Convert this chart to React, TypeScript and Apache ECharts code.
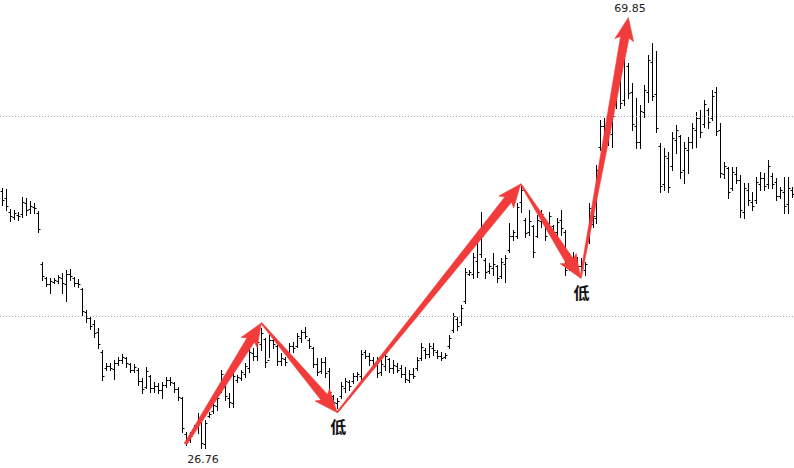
import React, { useEffect, useRef } from "react";
import * as echarts from "echarts";

const categories: string[] = Array.from({ length: 199 }, (_, i) => String(i + 1));

const openP: number[] = [
  52.5, 51.8, 50.4, 49.9, 50.1, 50.2, 51.3, 50.7, 50.9, 50.3,
  45.2, 43.8, 43.2, 43.4, 43.5, 43.8, 43.2, 44.2, 43.8, 43.3,
  42.7, 40.4, 39.8, 39.2, 38.4, 36.4, 34.8, 35.0, 34.7, 35.3,
  35.6, 35.8, 35.2, 34.6, 34.6, 33.5, 32.9, 34.0, 32.8, 33.0,
  32.6, 33.1, 33.6, 33.3, 32.7, 31.8, 28.2, 27.6, 28.7, 29.0,
  29.4, 27.2, 30.0, 30.5, 31.0, 32.6, 32.9, 31.8, 31.3, 33.6,
  33.8, 34.2, 34.8, 36.3, 36.0, 37.2, 37.7, 35.6, 37.6, 37.0,
  35.5, 35.7, 36.0, 37.0, 37.0, 37.8, 38.4, 37.6, 36.8, 35.2,
  34.5, 35.4, 34.5, 32.0, 31.3, 32.0, 32.8, 33.4, 33.5, 34.0,
  34.0, 36.4, 36.0, 35.6, 35.2, 34.4, 35.0, 35.7, 34.8, 35.0,
  34.8, 34.2, 33.6, 34.2, 34.8, 35.8, 36.6, 36.2, 36.8, 36.4,
  36.0, 35.9, 37.0, 38.6, 39.7, 39.4, 41.5, 44.2, 44.2, 45.5,
  46.2, 45.6, 44.5, 44.8, 45.0, 44.0, 45.2, 46.6, 48.0, 48.0,
  51.4, 49.6, 48.4, 49.0, 48.0, 49.5, 49.3, 48.8, 49.0, 48.4,
  49.6, 48.4, 44.8, 45.8, 45.5, 45.0, 44.6, 47.5, 49.2, 49.8,
  56.9, 59.0, 57.6, 58.2, 61.2, 63.6, 61.6, 65.0, 62.4, 59.0,
  57.4, 60.4, 62.4, 65.4, 62.2, 57.0, 53.2, 55.8, 55.0, 57.6,
  58.0, 54.6, 56.6, 57.4, 58.6, 59.8, 59.2, 60.6, 59.8, 62.4,
  58.6, 54.2, 54.8, 52.8, 54.2, 53.6, 50.4, 52.6, 51.4, 51.6,
  53.2, 53.8, 53.2, 54.0, 53.4, 52.0, 52.4, 51.2, 52.6,
];

const closeP: number[] = [
  51.6, 51.0, 50.0, 50.3, 50.0, 51.4, 50.6, 51.0, 50.8, 48.7,
  44.0, 43.2, 43.5, 43.6, 43.9, 43.3, 44.2, 44.0, 43.3, 43.2,
  40.5, 39.8, 39.0, 38.3, 37.2, 34.0, 35.0, 34.8, 35.3, 35.6,
  35.9, 35.3, 34.6, 34.9, 33.5, 32.7, 34.5, 32.8, 33.0, 32.6,
  33.1, 33.6, 33.4, 32.7, 31.9, 28.8, 27.6, 28.0, 29.0, 29.8,
  27.3, 29.3, 30.2, 31.1, 31.8, 34.2, 32.0, 31.4, 34.0, 33.9,
  34.4, 35.0, 36.4, 36.0, 37.4, 38.3, 35.4, 37.6, 37.2, 35.5,
  35.8, 35.4, 37.0, 36.8, 38.0, 38.4, 38.0, 37.0, 35.2, 34.4,
  35.4, 34.3, 32.4, 31.4, 31.5, 33.0, 33.5, 33.0, 34.0, 34.2,
  36.2, 36.0, 35.6, 35.1, 34.3, 35.2, 36.0, 34.8, 35.1, 34.6,
  34.2, 33.7, 34.2, 34.0, 35.6, 36.9, 36.2, 37.0, 36.6, 36.0,
  35.8, 36.1, 37.8, 40.0, 39.0, 40.8, 44.4, 44.4, 45.9, 44.4,
  48.0, 44.4, 45.0, 45.2, 43.8, 45.4, 45.8, 48.0, 48.4, 50.9,
  52.6, 48.3, 49.5, 46.4, 49.6, 50.2, 48.0, 50.0, 48.4, 49.4,
  48.8, 44.6, 45.8, 45.6, 45.0, 44.8, 45.2, 50.8, 50.0, 54.6,
  59.0, 57.7, 58.4, 60.0, 63.8, 61.3, 66.5, 62.3, 59.2, 57.4,
  60.5, 62.6, 65.6, 62.0, 58.8, 53.0, 56.0, 52.9, 57.8, 58.6,
  54.4, 56.8, 57.4, 58.8, 59.8, 58.4, 61.2, 59.4, 62.0, 58.5,
  54.3, 55.0, 52.4, 54.4, 53.6, 50.6, 52.8, 51.6, 51.0, 53.4,
  53.8, 53.0, 55.0, 53.2, 52.0, 52.6, 51.0, 52.8, 52.2,
];

const lowP: number[] = [
  51.1, 50.6, 49.5, 49.7, 49.6, 49.9, 50.1, 50.3, 50.3, 48.4,
  43.6, 43.0, 42.3, 43.3, 43.3, 42.3, 41.5, 43.6, 43.0, 42.9,
  40.1, 39.4, 38.7, 37.9, 36.8, 33.6, 34.6, 34.6, 33.7, 35.1,
  35.3, 34.9, 34.4, 34.4, 33.1, 32.3, 32.8, 32.4, 32.4, 32.3,
  31.8, 32.9, 33.1, 32.4, 31.6, 28.4, 27.1, 27.4, 28.6, 28.3,
  26.76, 26.85, 29.9, 30.3, 30.6, 32.4, 31.6, 30.9, 30.9, 33.4,
  33.6, 33.9, 34.4, 35.6, 35.6, 36.6, 34.9, 35.9, 36.8, 35.1,
  35.1, 35.1, 35.9, 36.4, 36.9, 37.4, 37.8, 36.8, 34.9, 34.1,
  34.3, 33.9, 32.1, 31.1, 30.8, 31.8, 32.4, 32.6, 33.3, 33.6,
  33.4, 35.8, 35.1, 34.8, 33.9, 34.1, 34.6, 34.4, 34.3, 34.4,
  33.9, 33.4, 33.4, 33.8, 34.6, 35.6, 35.8, 35.9, 36.1, 35.8,
  35.6, 35.8, 36.8, 38.4, 38.6, 39.1, 41.3, 44.1, 43.8, 43.9,
  45.9, 43.8, 44.3, 44.1, 43.4, 43.8, 43.4, 46.4, 47.6, 47.8,
  50.4, 47.9, 48.1, 45.9, 47.9, 48.9, 47.6, 48.6, 48.1, 47.8,
  48.1, 44.1, 44.6, 45.3, 44.6, 44.4, 44.1, 47.3, 48.9, 49.3,
  56.6, 57.3, 57.1, 56.9, 60.8, 60.8, 61.1, 61.8, 58.6, 56.8,
  56.8, 59.9, 61.4, 61.6, 58.4, 52.4, 52.6, 52.4, 54.6, 56.3,
  53.8, 53.3, 54.3, 56.8, 56.9, 57.9, 58.9, 58.8, 59.6, 58.1,
  53.9, 53.8, 51.8, 52.6, 53.3, 49.9, 49.8, 51.1, 50.6, 51.3,
  52.6, 52.6, 52.8, 52.8, 51.6, 51.8, 50.3, 50.3, 51.9,
];

const highP: number[] = [
  52.8, 52.7, 50.7, 50.6, 50.4, 51.9, 51.8, 51.5, 51.3, 50.5,
  45.4, 43.9, 43.8, 43.8, 44.1, 44.3, 44.6, 44.7, 43.9, 43.7,
  42.8, 40.6, 40.0, 39.6, 38.8, 36.6, 35.3, 35.3, 35.6, 35.9,
  36.2, 35.9, 35.3, 35.2, 34.8, 33.8, 34.9, 34.1, 33.4, 33.3,
  33.4, 33.9, 33.9, 33.4, 32.9, 31.9, 28.4, 28.4, 29.1, 30.3,
  29.6, 29.6, 30.4, 31.4, 32.1, 34.6, 33.1, 32.3, 34.4, 34.1,
  34.6, 35.3, 36.8, 36.8, 37.8, 38.8, 37.8, 38.1, 37.8, 37.1,
  36.3, 35.9, 37.3, 37.4, 38.3, 38.6, 38.9, 37.8, 36.9, 35.8,
  35.8, 35.9, 34.8, 32.1, 31.8, 33.4, 33.8, 33.6, 34.3, 34.4,
  36.6, 36.6, 36.3, 35.9, 35.9, 35.6, 36.4, 35.8, 35.6, 35.3,
  35.1, 34.9, 34.6, 34.8, 35.9, 37.3, 36.8, 37.3, 37.3, 36.6,
  36.4, 36.3, 38.1, 40.3, 39.9, 41.1, 44.8, 44.6, 46.3, 47.4,
  50.4, 45.8, 45.3, 46.3, 45.1, 45.8, 46.1, 49.3, 48.6, 51.3,
  53.1, 49.8, 50.6, 49.1, 50.1, 50.6, 49.4, 50.4, 49.1, 49.8,
  50.6, 48.6, 46.3, 46.4, 45.9, 45.8, 45.4, 51.3, 50.4, 55.1,
  59.6, 59.8, 58.8, 60.6, 64.3, 64.1, 67.1, 65.3, 63.3, 61.8,
  61.1, 63.1, 66.1, 67.3, 66.5, 57.3, 56.8, 56.4, 58.4, 59.1,
  58.1, 57.4, 57.9, 59.3, 60.4, 60.6, 61.6, 60.8, 62.6, 62.9,
  59.3, 55.4, 54.9, 54.9, 54.9, 54.1, 53.3, 53.3, 52.4, 53.9,
  54.4, 54.3, 55.6, 54.3, 53.8, 52.9, 53.9, 53.9, 52.9,
];

// Zig-zag pivots joined by arrows
const pivotIndex: number[] = [46, 65, 84, 130, 145, 157];
const pivotPrice: number[] = [27.2, 39.3, 30.35, 53.2, 43.8, 69.85];

// Annotations
const labelText: string[] = ["26.76", "低", "低", "69.85"];
const labelIndex: number[] = [50, 84, 145, 157];
const labelPrice: number[] = [26.76, 30.35, 43.8, 69.85];

const gridLevels: number[] = [40, 60];

export default function App() {
  const ref = useRef<HTMLDivElement | null>(null);

  useEffect(() => {
    if (!ref.current) return;
    const chart = echarts.init(ref.current, null, { renderer: "svg" });

    const ohlcData = categories.map((_, i) => [i, openP[i], closeP[i], lowP[i], highP[i]]);
    const arrowData = pivotIndex.slice(0, -1).map((_, k) => [
      pivotIndex[k],
      pivotPrice[k],
      pivotIndex[k + 1],
      pivotPrice[k + 1],
    ]);
    const arrowTail = [1.5, 0.6, 0.7, 0.6, 0.7];
    const labelData = labelText.map((_, k) => [labelIndex[k], labelPrice[k]]);
    const labelDy = [11, 13, 14, -9];

    const red = "#f23c3c";

    chart.setOption({
      animation: false,
      grid: { left: 0, right: 0, top: 0, bottom: 0 },
      xAxis: {
        type: "category",
        data: categories,
        boundaryGap: true,
        show: false,
      },
      yAxis: {
        type: "value",
        min: 24.8,
        max: 71.6,
        show: false,
        splitLine: { show: false },
      },
      series: [
        {
          type: "custom",
          name: "ohlc",
          data: ohlcData,
          encode: { x: 0, y: [1, 2, 3, 4] },
          clip: false,
          renderItem: (params: any, api: any) => {
            const i = api.value(0);
            const pO = api.coord([i, api.value(1)]);
            const pC = api.coord([i, api.value(2)]);
            const pL = api.coord([i, api.value(3)]);
            const pH = api.coord([i, api.value(4)]);
            const x = Math.round(pH[0]) + 0.5;
            const yo = Math.round(pO[1]) + 0.5;
            const yc = Math.round(pC[1]) + 0.5;
            const st = { stroke: "#000", lineWidth: 1 };
            return {
              type: "group",
              children: [
                { type: "line", shape: { x1: x, y1: Math.round(pH[1]), x2: x, y2: Math.round(pL[1]) + 1 }, style: st },
                { type: "line", shape: { x1: x - 2, y1: yo, x2: x, y2: yo }, style: st },
                { type: "line", shape: { x1: x, y1: yc, x2: x + 2, y2: yc }, style: st },
              ],
            };
          },
          markLine: {
            silent: true,
            symbol: ["none", "none"],
            label: { show: false },
            lineStyle: { color: "#a8a8a8", type: [1, 2], width: 1 },
            data: gridLevels.map((v) => ({ yAxis: v })),
          },
          z: 2,
        },
        {
          type: "custom",
          name: "arrows",
          data: arrowData,
          encode: { x: [0, 2], y: [1, 3] },
          clip: false,
          renderItem: (params: any, api: any) => {
            const T = api.coord([api.value(0), api.value(1)]);
            const P = api.coord([api.value(2), api.value(3)]);
            const dx = P[0] - T[0];
            const dy = P[1] - T[1];
            const len = Math.hypot(dx, dy);
            const ux = dx / len;
            const uy = dy / len;
            const nx = -uy;
            const ny = ux;
            const headLen = 20;
            const headHalf = 9.5;
            const shaftHalf = 4.3;
            const tailHalf = arrowTail[params.dataIndex] || 0.6;
            const bx = P[0] - ux * headLen;
            const by = P[1] - uy * headLen;
            const sweep = 3;
            const pts = [
              [T[0] + nx * tailHalf, T[1] + ny * tailHalf],
              [bx + nx * shaftHalf, by + ny * shaftHalf],
              [bx + nx * headHalf - ux * sweep, by + ny * headHalf - uy * sweep],
              [P[0], P[1]],
              [bx - nx * headHalf - ux * sweep, by - ny * headHalf - uy * sweep],
              [bx - nx * shaftHalf, by - ny * shaftHalf],
              [T[0] - nx * tailHalf, T[1] - ny * tailHalf],
            ];
            return {
              type: "polygon",
              shape: { points: pts },
              style: { fill: red, stroke: red, lineWidth: 0.6 },
            };
          },
          z: 5,
        },
        {
          type: "custom",
          name: "labels",
          data: labelData,
          encode: { x: 0, y: 1 },
          clip: false,
          renderItem: (params: any, api: any) => {
            const k = params.dataIndex;
            const p = api.coord([api.value(0), api.value(1)]);
            const isCjk = labelText[k] === "低";
            return {
              type: "text",
              x: p[0] + (isCjk ? 1 : 1.5),
              y: p[1] + labelDy[k],
              style: {
                text: labelText[k],
                fill: isCjk ? "#111" : "#222",
                fontSize: isCjk ? 16 : 11,
                fontWeight: isCjk ? "bold" : "normal",
                fontFamily: isCjk ? "Noto Sans CJK SC" : "DejaVu Sans",
                align: "center",
                verticalAlign: "middle",
              },
            };
          },
          z: 6,
        },
      ],
    });

    return () => {
      chart.dispose();
    };
  }, []);

  return (
    <div
      ref={ref}
      style={{ position: "absolute", left: 0, top: 0, width: 794, height: 468, background: "#fff" }}
    />
  );
}
